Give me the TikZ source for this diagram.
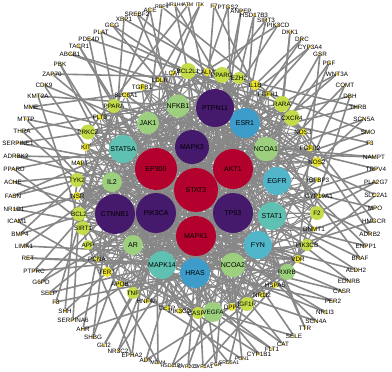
\documentclass[tikz,border=0pt]{standalone}
\usepackage{fontspec}
\setmainfont{Liberation Sans}
\usetikzlibrary{backgrounds}
\definecolor{cred}{HTML}{B3002D}
\definecolor{cpur}{HTML}{45196B}
\definecolor{cblue}{HTML}{3E9CCB}
\definecolor{clblue}{HTML}{52B6CB}
\definecolor{cteal}{HTML}{5FC1B1}
\definecolor{cgreen}{HTML}{9CD07E}
\definecolor{cyg}{HTML}{C3DC4A}
\definecolor{cyel}{HTML}{E9E22C}
\definecolor{cdot}{HTML}{F0C83A}
\definecolor{cedge}{HTML}{878787}
\tikzset{
  hub/.style={circle,inner sep=0pt,font=\fontsize{7}{8}\selectfont},
  odot/.style={circle,fill=cdot,inner sep=0pt,minimum size=3.2pt},
  lbl/.style={inner sep=0pt,font=\fontsize{6.3}{7}\selectfont},
  lbls/.style={inner sep=0pt,font=\fontsize{5.2}{6}\selectfont},
  edgeo/.style={draw=cedge,line width=1.6pt},
  edgei/.style={draw=cedge,line width=0.9pt},
}
\newcommand\outnode[3]{\node[odot] (#1) at (#2,#3) {};\node[lbl] (#1-l) at (#2,#3) {#1};}
\newcommand\outnodes[3]{\node[odot] (#1) at (#2,#3) {};\node[lbls] (#1-l) at (#2,#3) {#1};}
\newcommand\midnode[5]{\node[circle,inner sep=0pt,fill=#5,minimum size=#4pt] (#1) at (#2,#3) {};\node[lbl] (#1-l) at (#2,#3) {#1};}
\newcommand\hubnode[5]{\node[hub,fill=#5,minimum size=#4pt] (#1) at (#2,#3) {#1};}
\begin{document}
\begin{tikzpicture}[x=1pt,y=-1pt]
\useasboundingbox (0,0) rectangle (392,372);
% hubs
\hubnode{STAT3}{196}{190}{44}{cred}
\hubnode{EP300}{156}{169}{42}{cred}
\hubnode{AKT1}{233}{169}{40}{cred}
\hubnode{MAPK1}{196}{236}{40}{cred}
\hubnode{MAPK3}{192}{147}{34}{cpur}
\hubnode{PIK3CA}{156}{213}{40}{cpur}
\hubnode{TP53}{233}{213}{40}{cpur}
\hubnode{PTPN11}{215}{108}{38}{cpur}
\hubnode{CTNNB1}{115}{214}{40}{cpur}
\hubnode{ESR1}{245}{123}{30}{cblue}
\hubnode{HRAS}{195}{273}{30}{cblue}
\hubnode{EGFR}{277}{181}{28}{clblue}
\hubnode{FYN}{258}{245}{28}{clblue}
\hubnode{STAT1}{272}{216}{28}{cteal}
\hubnode{STAT5A}{123}{149}{28}{cteal}
\hubnode{MAPK14}{162}{265}{26}{cteal}
\hubnode{NCOA1}{266}{149}{22}{cgreen}
\hubnode{NCOA2}{233}{265}{22}{cgreen}
\hubnode{AR}{133}{245}{20}{cgreen}
\hubnode{IL2}{112}{182}{20}{cgreen}
\hubnode{JAK1}{148}{123}{22}{cgreen}
\hubnode{NFKB1}{178}{106}{20}{cgreen}
% middle ring
\midnode{LDLR}{160}{80}{6}{cyel}
\midnode{LCAT}{173}{73}{5}{cyel}
\midnode{BCL2L1}{188}{71}{16}{cyg}
\midnode{CALM1}{207}{72}{8}{cyel}
\midnode{PPARG}{222}{75}{16}{cyg}
\midnode{EZH2}{239}{78}{12}{cyg}
\midnode{IL1B}{255}{85}{10}{cyel}
\midnode{FGFR1}{268}{94}{6}{cyel}
\midnode{TGFB1}{142}{87}{7}{cyel}
\midnode{SLC6A1}{126}{95}{6}{cyel}
\midnode{PPARA}{114}{106}{14}{cyg}
\midnode{FLT3}{100}{117}{6}{cyel}
\midnode{PRKCZ}{88}{132}{15}{cyg}
\midnode{KIT}{86}{147}{8}{cyel}
\midnode{MAPT}{80}{163}{5}{cyel}
\midnode{TYK2}{77}{180}{14}{cyg}
\midnode{INSR}{77}{196}{8}{cyel}
\midnode{BCL2}{79}{214}{14}{cyg}
\midnode{SIRT1}{83}{228}{14}{cyg}
\midnode{APP}{88}{245}{10}{cyg}
\midnode{PCNA}{97}{259}{5}{cyel}
\midnode{TERT}{107}{272}{10}{cyel}
\midnode{APOB}{120}{284}{7}{cyel}
\midnode{TNF}{133}{293}{12}{cyg}
\midnode{HNF4A}{147}{301}{5}{cyel}
\midnode{CETP}{167}{308}{5}{cyel}
\midnode{PIK3CG}{180}{311}{6}{cyel}
\midnode{CASP3}{198}{313}{12}{cyg}
\midnode{VEGFA}{213}{312}{20}{cgreen}
\midnode{DPP4}{232}{307}{8}{cyel}
\midnode{IGF1R}{247}{304}{14}{cyg}
\midnode{NR1I2}{262}{295}{6}{cyel}
\midnode{HSPA5}{275}{285}{6}{cyel}
\midnode{RXRB}{287}{272}{16}{cgreen}
\midnode{VDR}{298}{259}{8}{cyel}
\midnode{PIK3CB}{307}{245}{12}{cyg}
\midnode{DNMT1}{314}{229}{5}{cyel}
\midnode{F2}{317}{213}{14}{cyg}
\midnode{CYP19A1}{319}{196}{5}{cyel}
\midnode{IGFBP3}{318}{180}{5}{cyel}
\midnode{NOS2}{317}{162}{10}{cyel}
\midnode{FGFR2}{310}{148}{7}{cyel}
\midnode{NOS3}{303}{132}{7}{cyel}
\midnode{CXCR4}{292}{118}{16}{cyg}
\midnode{RARA}{282}{104}{16}{cyg}
% outer ring
\outnode{SREBF2}{137}{14}
\outnode{ACE}{150}{10}
\outnodes{RBP4}{162}{7}
\outnodes{NR1H4}{175}{5}
\outnodes{ATM}{188}{5}
\outnodes{ITK}{200}{5}
\outnode{F7}{214}{6}
\outnode{PTGS2}{228}{7}
\outnode{ANPEP}{241}{11}
\outnode{HSD17B3}{254}{15}
\outnode{SIRT3}{266}{20}
\outnode{PIK3CD}{278}{25}
\outnode{DKK1}{290}{32}
\outnode{DRC}{302}{39}
\outnode{CYP3A4}{310}{47}
\outnode{GSR}{320}{54}
\outnode{PGF}{329}{63}
\outnode{WNT3A}{337}{74}
\outnode{COMT}{345}{85}
\outnode{DBH}{350}{96}
\outnode{THRB}{358}{107}
\outnode{SCN5A}{364}{119}
\outnode{SMO}{368}{132}
\outnode{F3}{370}{143}
\outnode{NAMPT}{374}{157}
\outnode{TRPV4}{376}{169}
\outnode{PLA2G7}{376}{182}
\outnode{SLC2A1}{376}{195}
\outnode{MPO}{375}{208}
\outnode{HMGCR}{374}{221}
\outnode{ADRB2}{370}{234}
\outnode{ENPP1}{366}{246}
\outnode{BRAF}{360}{258}
\outnode{ALDH2}{356}{270}
\outnode{EDNRB}{349}{281}
\outnode{CASR}{342}{291}
\outnode{PER2}{333}{301}
\outnode{NR1I3}{325}{312}
\outnode{SCN4A}{316}{321}
\outnode{TTR}{305}{328}
\outnode{SELE}{294}{336}
\outnode{CAT}{283}{344}
\outnode{FLT1}{272}{349}
\outnode{CYP1B1}{259}{354}
\outnodes{PON1}{242}{359}
\outnodes{SRD5A1}{229}{363}
\outnodes{PGR}{216}{365}
\outnodes{CYP1A1}{203}{367}
\outnodes{CYP2C9}{188}{367}
\outnodes{HSD11B1}{172}{366}
\outnodes{MDM4}{158}{363}
\outnode{ADK}{146}{360}
\outnode{EPHA2}{132}{355}
\outnode{NR3C2}{118}{351}
\outnode{GLI2}{104}{345}
\outnode{SHBG}{93}{337}
\outnode{AHR}{83}{329}
\outnode{SERPINA6}{73}{320}
\outnode{SHH}{65}{311}
\outnode{F8}{56}{302}
\outnode{SELP}{49}{293}
\outnode{G6PD}{41}{282}
\outnode{PTPRC}{34}{271}
\outnode{RET}{28}{258}
\outnode{LIMK1}{24}{246}
\outnode{BMP4}{20}{234}
\outnode{ICAM1}{17}{221}
\outnode{NR1D1}{14}{209}
\outnode{FASN}{13}{196}
\outnode{ACHE}{13}{182}
\outnode{PPARD}{14}{169}
\outnode{ADRBK2}{16}{156}
\outnode{SERPINE1}{18}{143}
\outnode{THRA}{22}{131}
\outnode{MTTP}{26}{119}
\outnode{MME}{31}{107}
\outnode{KMT2A}{38}{96}
\outnode{CDK9}{44}{85}
\outnode{ZAP70}{52}{74}
\outnode{PBK}{60}{64}
\outnode{ABCB1}{70}{54}
\outnode{TACR1}{79}{46}
\outnode{PDE4D}{89}{39}
\outnode{PLAT}{101}{32}
\outnode{GCG}{112}{25}
\outnode{XBP1}{124}{19}
% edges
\begin{pgfonlayer}{background}
\pgfmathsetseed{11}
\pgfmathdeclarerandomlist{hubs}{{STAT3}{STAT3}{EP300}{EP300}{AKT1}{AKT1}{MAPK1}{MAPK1}{MAPK3}{PIK3CA}{TP53}{TP53}{PTPN11}{CTNNB1}{ESR1}{HRAS}{EGFR}{FYN}{STAT1}{STAT5A}{MAPK14}{NCOA1}{NCOA2}{AR}{IL2}{JAK1}{NFKB1}}
\pgfmathdeclarerandomlist{mids}{{BCL2L1}{PPARG}{EZH2}{IL1B}{PPARA}{PRKCZ}{TYK2}{BCL2}{SIRT1}{APP}{TERT}{TNF}{CASP3}{VEGFA}{IGF1R}{RXRB}{PIK3CB}{F2}{NOS2}{CXCR4}{RARA}{KIT}{INSR}{DPP4}{VDR}}
\foreach \a [count=\ia] in {STAT3,EP300,AKT1,MAPK1,MAPK3,PIK3CA,TP53,PTPN11,CTNNB1,ESR1,HRAS,EGFR,FYN,STAT1,STAT5A,MAPK14,NCOA1,NCOA2,AR,IL2,JAK1,NFKB1}{
  \foreach \b [count=\ib] in {STAT3,EP300,AKT1,MAPK1,MAPK3,PIK3CA,TP53,PTPN11,CTNNB1,ESR1,HRAS,EGFR,FYN,STAT1,STAT5A,MAPK14,NCOA1,NCOA2,AR,IL2,JAK1,NFKB1}{
    \ifnum\ib>\ia \draw[edgei] (\a) -- (\b); \fi
  }
}
\foreach \m in {LDLR,LCAT,BCL2L1,CALM1,PPARG,EZH2,IL1B,FGFR1,TGFB1,SLC6A1,PPARA,FLT3,PRKCZ,KIT,MAPT,TYK2,INSR,BCL2,SIRT1,APP,PCNA,TERT,APOB,TNF,HNF4A,CETP,PIK3CG,CASP3,VEGFA,DPP4,IGF1R,NR1I2,HSPA5,RXRB,VDR,PIK3CB,DNMT1,F2,CYP19A1,IGFBP3,NOS2,FGFR2,NOS3,CXCR4,RARA}{
  \foreach \k in {1,...,6}{
    \pgfmathrandomitem{\h}{hubs}
    \draw[edgei] (\m) -- (\h);
  }
  \pgfmathrandomitem{\q}{mids}
  \draw[edgei] (\m) -- (\q);
}
\foreach \o in {SREBF2,ACE,RBP4,NR1H4,ATM,ITK,F7,PTGS2,ANPEP,HSD17B3,SIRT3,PIK3CD,DKK1,DRC,CYP3A4,GSR,PGF,WNT3A,COMT,DBH,THRB,SCN5A,SMO,F3,NAMPT,TRPV4,PLA2G7,SLC2A1,MPO,HMGCR,ADRB2,ENPP1,BRAF,ALDH2,EDNRB,CASR,PER2,NR1I3,SCN4A,TTR,SELE,CAT,FLT1,CYP1B1,PON1,SRD5A1,PGR,CYP1A1,CYP2C9,HSD11B1,MDM4,ADK,EPHA2,NR3C2,GLI2,SHBG,AHR,SERPINA6,SHH,F8,SELP,G6PD,PTPRC,RET,LIMK1,BMP4,ICAM1,NR1D1,FASN,ACHE,PPARD,ADRBK2,SERPINE1,THRA,MTTP,MME,KMT2A,CDK9,ZAP70,PBK,ABCB1,TACR1,PDE4D,PLAT,GCG,XBP1}{
  \pgfmathrandomitem{\h}{hubs}
  \draw[edgeo] (\o) -- (\h);
  \pgfmathrandomitem{\q}{mids}
  \draw[edgeo] (\o) -- (\q);
}
\end{pgfonlayer}
\end{tikzpicture}
\end{document}
